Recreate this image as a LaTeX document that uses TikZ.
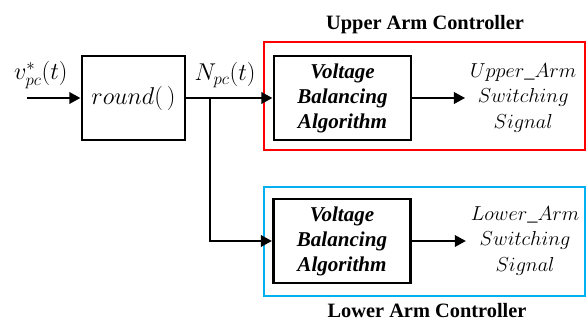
\documentclass[tikz,border=0pt]{standalone}
\usepackage{fontspec}
\setmainfont{Liberation Serif}
\usepackage{amsmath}
\usetikzlibrary{arrows.meta,positioning}
\definecolor{cUpper}{HTML}{FF0000}
\definecolor{cLower}{HTML}{00B0F0}

\begin{document}
\begin{tikzpicture}[
  block/.style={draw,line width=2.1pt,minimum height=2.1cm,inner sep=0pt},
  vba/.style={block,minimum width=3.425cm,align=center,
    font=\fontsize{15}{17.8}\selectfont\bfseries\itshape},
  sig/.style={align=center,font=\fontsize{14.5}{18}\selectfont},
  ctrl/.style={font=\fontsize{14.5}{16}\selectfont\bfseries,anchor=base},
  lab/.style={font=\fontsize{16.5}{18}\selectfont},
  wire/.style={line width=2.1pt},
  >={Triangle[length=8pt,width=8pt]}]

\useasboundingbox (0,0) rectangle (14.65,8.025);

%============================ controller frames ============================
\draw[cUpper,line width=2pt] (6.6,4.275) rectangle (14.625,6.975);
\draw[cLower,line width=2pt] (6.6,0.625) rectangle (14.625,3.35);
\node[ctrl] (ctrlU) at (10.625,7.275) {Upper Arm Controller};
\node[ctrl] (ctrlL) at (10.675,0.09) {Lower Arm Controller};

%============================ blocks ============================
\node[block,minimum width=2.575cm,lab] (rnd) at (3.3375,5.575) {$round(\,)$};
\node[vba] (vbaU) at (8.5625,5.575) {Voltage\\Balancing\\Algorithm};
\node[vba] (vbaL) at (8.55,2.0) {Voltage\\Balancing\\Algorithm};

\node[sig,anchor=west] (outU) at (11.63,5.575) {$Upper$\_$Arm$\\$Switching$\\$Signal$};
\node[sig,anchor=west] (outL) at (11.65,2.0) {$Lower$\_$Arm$\\$Switching$\\$Signal$};

% --- input / intermediate signals ---
\coordinate (in) at (0.675,5.575);
\coordinate (jn) at (5.25,5.575);
\coordinate (bend) at (5.25,2.0);
\node[lab] (vlab) at (1.02,6.15) {$v^{*}_{pc}(t)$};
\node[lab] (nlab) at (5.625,6.15) {$N_{pc}(t)$};

%============================ connectors ============================
\draw[wire,->] (in) -- (rnd.west);
\draw[wire,->] (rnd.east) -- (vbaU.west);
\draw[wire,->] (jn) -- (bend) -- (vbaL.west);
\draw[wire,->] (vbaU.east) -- (outU.west);
\draw[wire,->] (vbaL.east) -- (outL.west);

\end{tikzpicture}
\end{document}
